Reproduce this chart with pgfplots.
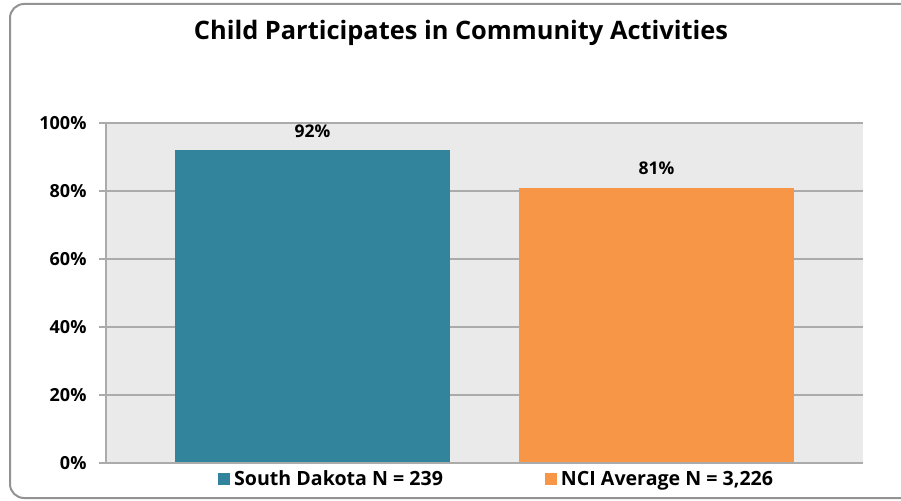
\documentclass[border=0pt]{standalone}
\usepackage{pgfplots}
\pgfplotsset{compat=1.18}
\usepackage{fontspec}
\setmainfont{Open Sans}
\definecolor{teal}{HTML}{31849B}
\definecolor{orng}{HTML}{F79646}
\definecolor{bg}{HTML}{EAEAEA}
\definecolor{gridc}{HTML}{ABABAB}
\begin{document}
\begin{tikzpicture}[x=1pt,y=1pt]
\path[use as bounding box] (0,0) rectangle (901,500);
\draw[rounded corners=14pt, color=gray!85, line width=2pt] (10,2) rectangle (920,496);
\node[font=\fontsize{25.4}{30}\selectfont\bfseries] at (461,467) {Child Participates in Community Activities};
\begin{axis}[
  at={(106pt,37pt)}, anchor=south west,
  scale only axis, width=757pt, height=340pt,
  xmin=0, xmax=757, ymin=0, ymax=100,
  axis background/.style={fill=bg},
  axis line style={draw=none},
  ytick={0,20,40,60,80,100},
  xtick=\empty,
  ymajorgrids, grid style={gridc, line width=1.5pt},
  tick style={gridc, line width=1.5pt},
  major tick length=7pt,
  tick align=outside,
  ytick pos=left,
  /pgf/number format/assume math mode=true,
  yticklabel={\pgfmathprintnumber{\tick}\%},
  yticklabel style={font=\fontsize{18}{20}\selectfont\bfseries, xshift=-9pt},
  ybar, bar width=275, bar shift=0pt,
  nodes near coords={\pgfmathprintnumber{\pgfplotspointmeta}\%},
  every node near coord/.append style={font=\fontsize{17.5}{20}\selectfont\bfseries, yshift=9pt},
  legend columns=2,
  legend style={at={(0.516,-0.01)}, anchor=north, draw=none, fill=none,
    font=\fontsize{19.6}{22}\selectfont\bfseries,
    /tikz/every odd column/.append style={column sep=2pt},
    /tikz/every even column/.append style={column sep=100pt}},
  legend image code/.code={\fill[#1] (0pt,-6pt) rectangle (12pt,6pt);},
  clip=false,
]
\addplot[fill=teal, draw=none] coordinates {(206.5,92)};
\addplot[fill=orng, draw=none] coordinates {(550.5,81)};
\draw[gridc, line width=1.5pt] (axis cs:0,0) -- (axis cs:0,100);
\draw[gridc, line width=1.5pt] (axis cs:0,0) -- (axis cs:757,0);
\legend{South Dakota N = 239, {NCI Average N = 3,226}}
\end{axis}
\end{tikzpicture}
\end{document}
